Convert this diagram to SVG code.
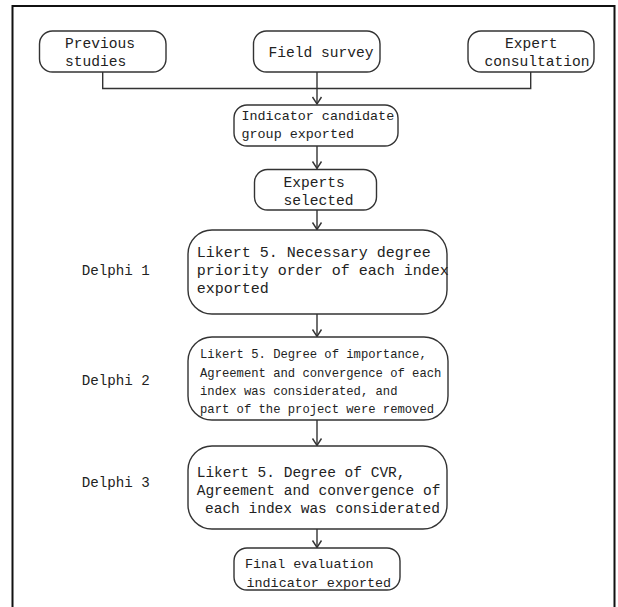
<svg xmlns="http://www.w3.org/2000/svg" width="618" height="607" viewBox="0 0 618 607">
<style>
.box{fill:#fff;stroke:#333;stroke-width:1.4}
.t{font-family:"Liberation Mono","DejaVu Sans Mono",monospace;fill:#222}
.c{fill:none;stroke:#333;stroke-width:1.4}
</style>
<defs>
<marker id="ah" markerWidth="14" markerHeight="14" refX="12" refY="7" orient="auto" markerUnits="userSpaceOnUse" viewBox="0 0 14 14">
<path d="M5,2.5 L12,7 L5,11.5" fill="none" stroke="#333" stroke-width="1.4"/>
</marker>
</defs>
<rect width="618" height="607" fill="#fff"/>
<path d="M12.5,607 V6 H614.5 V607" fill="none" stroke="#111" stroke-width="2"/>

<g id="connectors">
<path class="c" d="M102.7,72 V88.5 H530.7 V72"/>
<path class="c" d="M317,72 V104" marker-end="url(#ah)"/>
<path class="c" d="M317,146 V168.5" marker-end="url(#ah)"/>
<path class="c" d="M317,210 V229.5" marker-end="url(#ah)"/>
<path class="c" d="M317,314 V336.5" marker-end="url(#ah)"/>
<path class="c" d="M317,420 V445.5" marker-end="url(#ah)"/>
<path class="c" d="M317,529 V547.5" marker-end="url(#ah)"/>
</g>

<g id="previous">
<rect class="box" x="39.5" y="31" width="126.5" height="41" rx="13"/>
<text class="t" font-size="14.6"><tspan x="65" y="48">Previous</tspan><tspan x="65" y="66">studies</tspan></text>
</g>
<g id="field">
<rect class="box" x="253.5" y="31" width="126.5" height="41" rx="13"/>
<text class="t" font-size="14.6" x="268.5" y="57">Field survey</text>
</g>
<g id="expert">
<rect class="box" x="468" y="31" width="126" height="41" rx="13"/>
<text class="t" font-size="14.6"><tspan x="505" y="48">Expert</tspan><tspan x="484.5" y="66">consultation</tspan></text>
</g>
<g id="indicator">
<rect class="box" x="234" y="105" width="164" height="41" rx="13"/>
<text class="t" font-size="13.4"><tspan x="241.5" y="119.5">Indicator candidate</tspan><tspan x="241.5" y="137.5">group exported</tspan></text>
</g>
<g id="experts">
<rect class="box" x="254.5" y="169.5" width="122" height="40.5" rx="13"/>
<text class="t" font-size="14.6"><tspan x="283.5" y="187">Experts</tspan><tspan x="283.5" y="204.5">selected</tspan></text>
</g>
<g id="delphi1">
<text class="t" font-size="14.2" x="81.7" y="275">Delphi 1</text>
<rect class="box" x="188" y="230" width="259" height="84" rx="24"/>
<text class="t" font-size="15"><tspan x="196.7" y="257">Likert 5. Necessary degree</tspan><tspan x="196.7" y="275">priority order of each index</tspan><tspan x="196.7" y="293.3">exported</tspan></text>
</g>
<g id="delphi2">
<text class="t" font-size="14.2" x="81.7" y="385">Delphi 2</text>
<rect class="box" x="188" y="337" width="260" height="83" rx="24"/>
<text class="t" font-size="12.2"><tspan x="200" y="358.3">Likert 5. Degree of importance,</tspan><tspan x="200" y="376.7">Agreement and convergence of each</tspan><tspan x="200" y="395">index was considerated, and</tspan><tspan x="200" y="413.3">part of the project were removed</tspan></text>
</g>
<g id="delphi3">
<text class="t" font-size="14.2" x="81.7" y="487">Delphi 3</text>
<rect class="box" x="188" y="446" width="259" height="83" rx="24"/>
<text class="t" font-size="14.5"><tspan x="196.7" y="477">Likert 5. Degree of CVR,</tspan><tspan x="196.7" y="495">Agreement and convergence of</tspan><tspan x="205" y="513">each index was considerated</tspan></text>
</g>
<g id="final">
<rect class="box" x="234" y="548" width="166" height="42" rx="13"/>
<text class="t" font-size="13.4"><tspan x="245" y="568">Final evaluation</tspan><tspan x="246.5" y="587">indicator exported</tspan></text>
</g>
</svg>
